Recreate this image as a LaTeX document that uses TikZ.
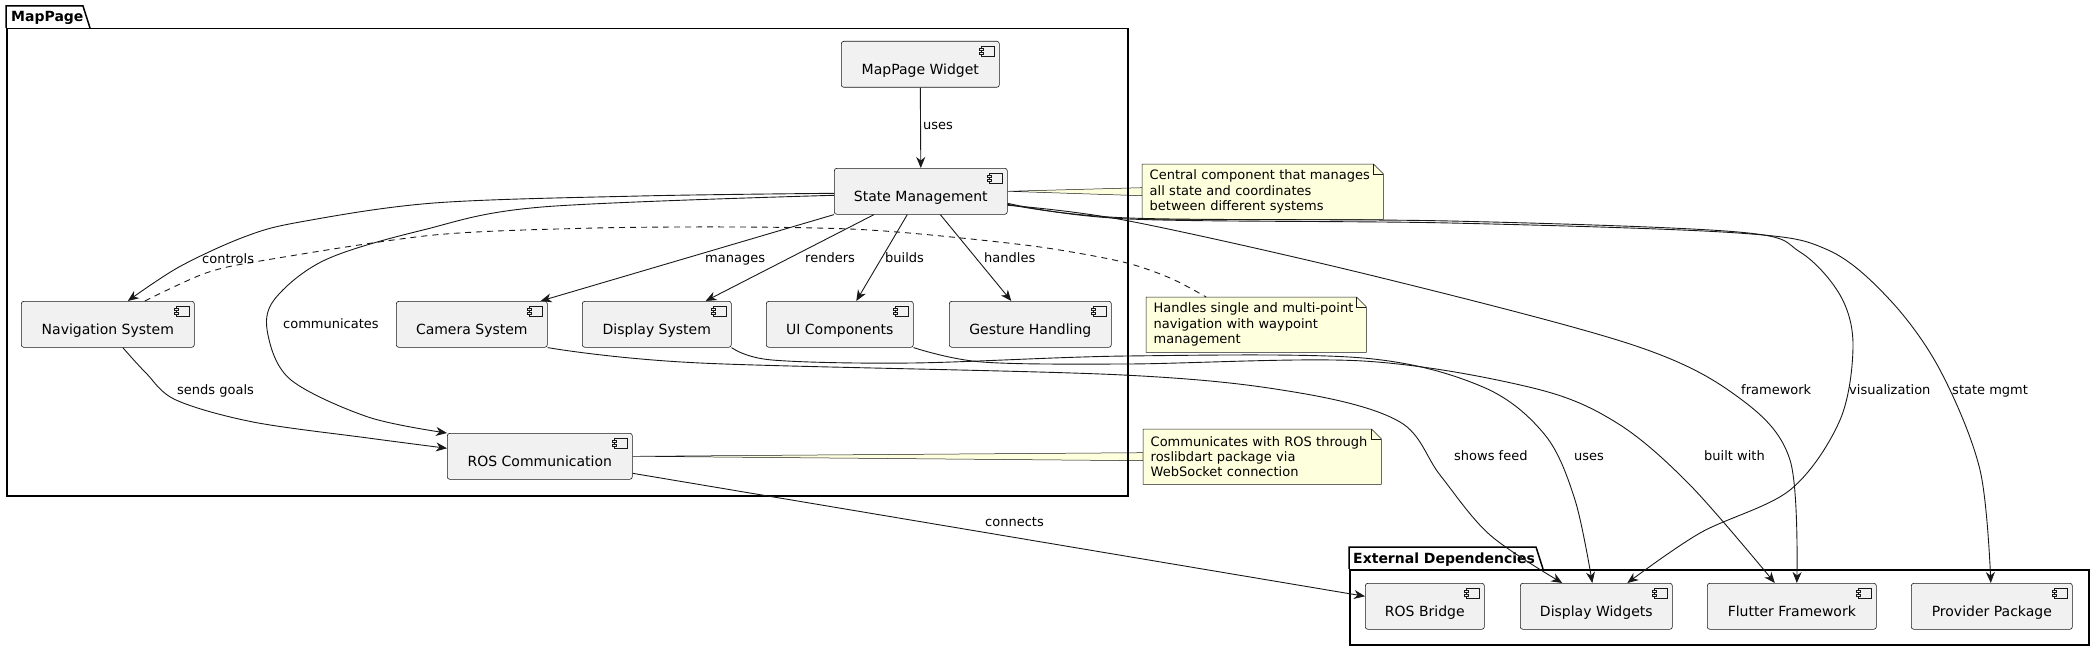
\documentclass[tikz,border=0pt]{standalone}
\usepackage{fontspec}
\setmainfont{DejaVu Sans}
\usetikzlibrary{arrows.meta,backgrounds,calc}
\definecolor{lineC}{HTML}{181818}
\definecolor{boxC}{HTML}{F1F1F1}
\definecolor{noteC}{HTML}{FEFFDD}
\begin{document}
\begin{tikzpicture}[x=1pt,y=-1pt,
  comp/.style={draw=lineC, fill=boxC, line width=0.6pt, rounded corners=2.5pt, anchor=north west,
    minimum height=46pt, inner sep=0pt, font=\fontsize{14}{16}\selectfont, text height=24pt, text depth=3pt},
  notebox/.style={anchor=north west, inner xsep=7.5pt, inner ysep=0pt, align=left,
    font=\fontsize{13}{15.3}\selectfont, minimum height=55pt},
  lbl/.style={anchor=west, inner sep=0pt, font=\fontsize{13}{15}\selectfont, text height=9.5pt, text depth=2.5pt},
  arr/.style={draw=lineC, line width=0.9pt, -{Stealth[length=11pt,width=9pt,inset=3.5pt]}},
  dashconn/.style={draw=lineC, line width=0.9pt, dash pattern=on 6pt off 5pt},
  pkg/.style={draw=black, line width=1.5pt},
  pkgtitle/.style={anchor=base west, inner sep=0pt, font=\bfseries\fontsize{14}{16}\selectfont},
  icon/.style={draw=lineC, fill=boxC, line width=0.5pt},
  notefill/.style={fill=noteC, draw=lineC, line width=0.5pt},
]
\useasboundingbox (0,0) rectangle (2095,650);

% packages
\node[pkg, anchor=north west, minimum width=1121pt, minimum height=467pt, inner sep=0pt] (mp) at (6,28) {};
\draw[pkg] (mp.north west) -- ++(0pt,22pt) -- ++(77pt,0pt) -- ++(7pt,-22pt);
\node[pkgtitle] (mpt) at ([shift={(5pt,6pt)}]mp.north west) {MapPage};

\node[pkg, anchor=north west, minimum width=739pt, minimum height=75pt, inner sep=0pt] (ext) at (1349,569) {};
\draw[pkg] (ext.north west) -- ++(0pt,22pt) -- ++(187pt,0pt) -- ++(7pt,-22pt);
\node[pkgtitle] (extt) at ([shift={(4pt,6pt)}]ext.north west) {External Dependencies};

% components
\node[comp, minimum width=158pt] (mpw) at (841,41) {MapPage Widget};
\node[comp, minimum width=173pt] (state) at (834,168) {State Management};
\node[comp, minimum width=173pt] (nav) at (21,301) {Navigation System};
\node[comp, minimum width=151pt] (cam) at (396,301) {Camera System};
\node[comp, minimum width=149pt] (disp) at (582,301) {Display System};
\node[comp, minimum width=147pt] (ui) at (766,301) {UI Components};
\node[comp, minimum width=162pt] (gest) at (949,301) {Gesture Handling};
\node[comp, minimum width=185pt] (ros) at (447,433) {ROS Communication};
\node[comp, minimum width=119pt] (rb) at (1365,583) {ROS Bridge};
\node[comp, minimum width=152pt] (dw) at (1520,583) {Display Widgets};
\node[comp, minimum width=169pt] (ff) at (1707,583) {Flutter Framework};
\node[comp, minimum width=161pt] (pp) at (1911,583) {Provider Package};

\foreach \n in {mpw,state,nav,cam,disp,ui,gest,ros,rb,dw,ff,pp}{
  \draw[icon] ([shift={(-18pt,-5pt)}]\n.north east) rectangle ++(13pt,-10pt);
  \draw[icon] ([shift={(-20pt,-7pt)}]\n.north east) rectangle ++(4pt,-2pt);
  \draw[icon] ([shift={(-20pt,-11pt)}]\n.north east) rectangle ++(4pt,-2pt);
}

% notes
\node[notebox, text width=226pt] (n1) at (1142,164) {Central component that manages\\all state and coordinates\\between different systems};
\node[notebox, text width=205pt] (n2) at (1146,297) {Handles single and multi-point\\navigation with waypoint\\management};
\node[notebox, text width=223pt] (n3) at (1143,429) {Communicates with ROS through\\roslibdart package via\\WebSocket connection};

\begin{scope}[on background layer]
  \filldraw[notefill] (state.east) -- ([yshift=4pt]n1.west) -- ([yshift=-4pt]n1.west) -- cycle;
  \filldraw[notefill] (ros.east) -- ([yshift=4pt]n3.west) -- ([yshift=-4pt]n3.west) -- cycle;
  \foreach \n in {n1,n2,n3}{
    \filldraw[notefill] (\n.north west) -- ([xshift=-10pt]\n.north east) -- ([yshift=-10pt]\n.north east)
      -- (\n.south east) -- (\n.south west) -- cycle;
    \draw[lineC, line width=0.5pt] ([xshift=-10pt]\n.north east) |- ([yshift=-10pt]\n.north east);
  }
\end{scope}

% anchor helpers
\coordinate (sW1) at ([yshift=-2pt]state.west);
\coordinate (sW2) at ([yshift=-4pt]state.west);
\coordinate (sE1) at ([yshift=-14pt]state.east);
\coordinate (sE2) at ([yshift=-13pt]state.east);
\coordinate (sE3) at ([yshift=-12pt]state.east);
\coordinate (navIn) at ([xshift=20pt]nav.north);
\coordinate (navOut) at ([xshift=15pt]nav.south);
\coordinate (navNote) at ([xshift=37pt]nav.north);
\coordinate (n2In) at ([xshift=-50pt]n2.north);
\coordinate (rosIn) at ([yshift=8pt]ros.west);
\coordinate (rosOut) at ([yshift=-17pt]ros.east);
\coordinate (rbIn) at ([yshift=10pt]rb.west);
\coordinate (dwA) at ([xshift=-34pt]dw.north);
\coordinate (dwB) at ([xshift=-4pt]dw.north);
\coordinate (dwC) at ([xshift=31pt]dw.north);
\coordinate (ffA) at ([xshift=-17pt]ff.north);
\coordinate (ffB) at ([xshift=5pt]ff.north);
\coordinate (ppIn) at ([xshift=-1pt]pp.north);

% straight connectors
\draw[arr] (mpw.south) -- (state.north);
\draw[arr] (state.south west) -- ([xshift=-7pt]cam.north east);
\draw[arr] ([xshift=40pt]state.south west) -- ([xshift=-26pt]disp.north east);
\draw[arr] ([xshift=-13.5pt]state.south) -- ([xshift=16.5pt]ui.north);
\draw[arr] ([xshift=19.5pt]state.south) -- ([xshift=-19pt]gest.north);
\draw[arr] (rosOut) -- (rbIn);

% curved connectors
\draw[arr] plot[smooth, tension=0.55] coordinates {(sW1) (640,196) (434,203) (300,222) (244,237) (179,267) (navIn)};
\draw[arr] plot[smooth, tension=0.55] coordinates {(sW2) (542,207) (423,230) (325,260) (274,300) (268,335) (291,380) (368,417) (ros.north west)};
\draw[arr] plot[smooth, tension=0.55] coordinates {(navOut) (146,373) (176,400) (253,422) (368,438) (rosIn)};
\draw[arr] plot[smooth, tension=0.55] coordinates {(cam.south east) (700,363) (1123,375) (1300,393) (1400,422) (1440,475) (1490,535) (dwA)};
\draw[arr] plot[smooth, tension=0.55] coordinates {(disp.south east) (772,360) (912,363) (1127,356) (1363,358) (1483,387) (1545,435) (1575,500) (dwB)};
\draw[arr] plot[smooth, tension=0.55] coordinates {(ui.south east) (982,362) (1127,364) (1363,361) (1533,388) (1617,423) (1690,485) (ffA)};
\draw[arr] plot[smooth, tension=0.55] coordinates {(sE1) (1129,221) (1378,277) (1633,345) (1738,397) (1790,460) (ffB)};
\draw[arr] plot[smooth, tension=0.55] coordinates {(sE2) (1129,218) (1450,221) (1738,232) (1800,252) (1840,295) (1853,345) (1840,420) (1790,490) (1700,533) (dwC)};
\draw[arr] plot[smooth, tension=0.55] coordinates {(sE3) (1129,219) (1450,223) (1738,233) (1828,250) (1890,300) (1940,370) (1980,470) (ppIn)};
\draw[dashconn] plot[smooth, tension=0.5] coordinates {(navNote) (206,273) (266,260) (434,235) (596,228) (740,227) (850,229) (931,235) (1040,247) (1123,262) (1170,278) (n2In)};

% labels
\node[lbl] (l1) at (923,126) {uses};
\node[lbl] (l2) at (202,260) {controls};
\node[lbl] (l3) at (283,325) {communicates};
\node[lbl] (l4) at (705,259) {manages};
\node[lbl] (l5) at (805,259) {renders};
\node[lbl] (l6) at (885,259) {builds};
\node[lbl] (l7) at (984,259) {handles};
\node[lbl] (l8) at (177,391) {sends goals};
\node[lbl] (l9) at (985,523) {connects};
\node[lbl] (l10) at (1454,457) {shows feed};
\node[lbl] (l11) at (1574,457) {uses};
\node[lbl] (l12) at (1704,457) {built with};
\node[lbl] (l13) at (1741,391) {framework};
\node[lbl] (l14) at (1849,391) {visualization};
\node[lbl] (l15) at (1952,391) {state mgmt};
\end{tikzpicture}
\end{document}
